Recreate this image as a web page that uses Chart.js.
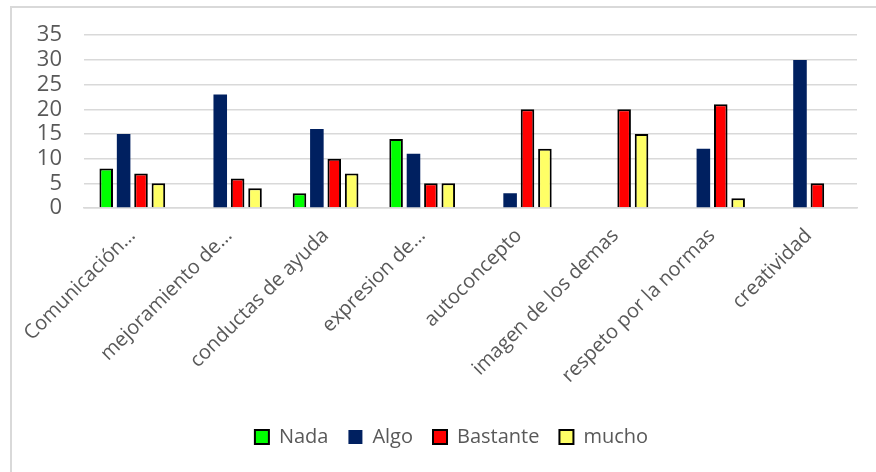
<!DOCTYPE html>
<html>
<head>
<meta charset="utf-8">
<script src="https://cdn.jsdelivr.net/npm/chart.js@4"></script>
<style>
  html, body { margin: 0; padding: 0; background: #fff; overflow: hidden; }
  .wrap { position: relative; width: 876px; height: 472px; }
  .frame { position: absolute; left: 10px; top: 6px; width: 900px; height: 500px; border: 2px solid #d9d9d9; }
  canvas { position: absolute; left: 0; top: 0; }
</style>
</head>
<body>
<div class="wrap">
  <div class="frame"></div>
  <canvas id="chart" width="876" height="472"></canvas>
</div>
<script>
const categories = ['Comunicación…', 'mejoramiento de…', 'conductas de ayuda', 'expresion de…',
    'autoconcepto', 'imagen de los demas', 'respeto por la normas', 'creatividad'];
const nada = [8, null, 3, 14, null, null, null, null];
const algo = [15, 23, 16, 11, 3, null, 12, 30];
const bastante = [7, 6, 10, 5, 20, 20, 21, 5];
const mucho = [5, 4, 7, 5, 12, 15, 2, null];

const textColor = '#595959';
const font = { family: '"Open Sans", sans-serif', size: 20 };

// shift the legend so it is centred like the original picture
const legendShift = {
    id: 'legendShift',
    afterLayout(chart) {
        const lg = chart.legend;
        lg.left += 23;
        lg.right += 23;
        lg.adjustHitBoxes();
    }
};

const config = {
    type: 'bar',
    data: {
        labels: categories,
        datasets: [
            { label: 'Nada', data: nada, backgroundColor: '#00ff00', borderColor: '#000', borderWidth: 2 },
            { label: 'Algo', data: algo, backgroundColor: '#002060', borderColor: '#002060', borderWidth: 0 },
            { label: 'Bastante', data: bastante, backgroundColor: '#ff0000', borderColor: '#000', borderWidth: 2 },
            { label: 'mucho', data: mucho, backgroundColor: '#ffff66', borderColor: '#000', borderWidth: 2 }
        ]
    },
    options: {
        responsive: false,
        animation: false,
        categoryPercentage: 0.72,
        barPercentage: 0.78,
        layout: { padding: { left: 0, right: 19, top: 35, bottom: 15 } },
        scales: {
            y: {
                min: 0,
                max: 35,
                afterFit: (scale) => { scale.width = 84; },
                border: { display: false },
                grid: { color: '#d9d9d9', lineWidth: 1.5, drawTicks: false },
                ticks: { color: textColor, font: { family: font.family, size: 22 }, padding: 22, stepSize: 5, autoSkip: false }
            },
            x: {
                afterFit: (scale) => { scale.height = 199; },
                border: { color: '#d9d9d9', width: 1.5 },
                grid: { display: false },
                ticks: { color: textColor, font: font, minRotation: 45, maxRotation: 45, autoSkip: false, padding: 8, labelOffset: 0 }
            }
        },
        plugins: {
            legend: {
                position: 'bottom',
                labels: { color: textColor, font: font, boxWidth: 14, boxHeight: 14, padding: 20 }
            },
            tooltip: { enabled: false }
        }
    },
    plugins: [legendShift]
};

new Chart(document.getElementById('chart'), config);
</script>
</body>
</html>
